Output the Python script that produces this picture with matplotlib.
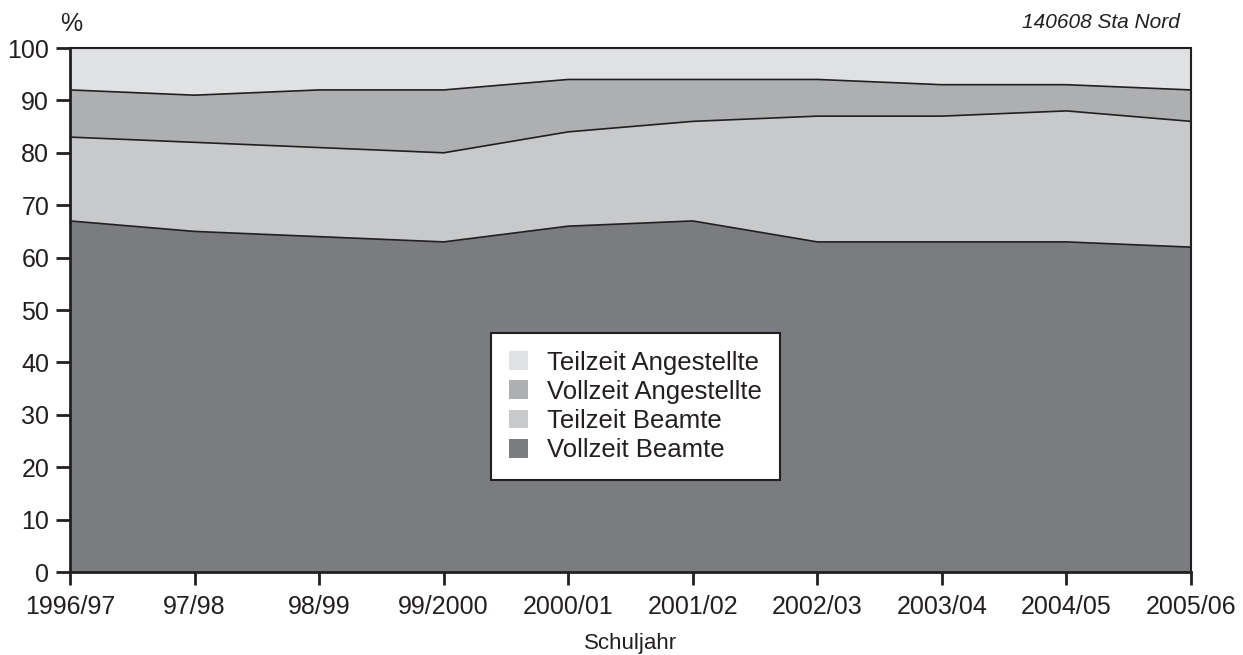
import numpy as np
import matplotlib.pyplot as plt

plt.rcParams['font.family'] = ['Liberation Sans', 'DejaVu Sans']

# ----- DATA -----
schuljahre = ["1996/97", "97/98", "98/99", "99/2000", "2000/01",
              "2001/02", "2002/03", "2003/04", "2004/05", "2005/06"]
vollzeit_beamte = [67, 65, 64, 63, 66, 67, 63, 63, 63, 62]
teilzeit_beamte = [16, 17, 17, 17, 18, 19, 24, 24, 25, 24]
vollzeit_angestellte = [9, 9, 11, 12, 10, 8, 7, 6, 5, 6]
teilzeit_angestellte = [8, 9, 8, 8, 6, 6, 6, 7, 7, 8]

series = [
    ("Vollzeit Beamte", vollzeit_beamte, "#7b7c80"),
    ("Teilzeit Beamte", teilzeit_beamte, "#c8c9cb"),
    ("Vollzeit Angestellte", vollzeit_angestellte, "#aeafb1"),
    ("Teilzeit Angestellte", teilzeit_angestellte, "#e0e1e3"),
]
line_col = "#231f20"

# ----- PLOT -----
fig = plt.figure(figsize=(12.43, 6.55), dpi=100)
ax = fig.add_axes([0.0563, 0.1267, 0.9019, 0.80])

x = np.arange(len(schuljahre))
ax.stackplot(x, *[s[1] for s in series],
             colors=[s[2] for s in series], linewidth=0)

# boundary lines between layers
cum = np.cumsum([s[1] for s in series], axis=0)
for row in cum[:-1]:
    ax.plot(x, row, color=line_col, lw=1.2)

ax.set_xlim(0, len(schuljahre) - 1)
ax.set_ylim(0, 100)
ax.set_yticks(range(0, 101, 10))
ax.set_xticks(x)
ax.set_xticklabels(schuljahre)

for side in ["left", "bottom"]:
    ax.spines[side].set_linewidth(2)
    ax.spines[side].set_color(line_col)
for side in ["top", "right"]:
    ax.spines[side].set_linewidth(1.5)
    ax.spines[side].set_color(line_col)
ax.tick_params(axis="y", length=10, width=2, color=line_col, labelsize=18, pad=5)
ax.tick_params(axis="x", length=9.5, width=2, color=line_col, labelsize=18, pad=7)
for lab in ax.get_xticklabels() + ax.get_yticklabels():
    lab.set_color(line_col)

ax.set_xlabel("Schuljahr", fontsize=16, color=line_col, labelpad=10)
fig.text(0.057, 0.963, "%", fontsize=18, color=line_col, ha="center", va="center")
fig.text(0.9493, 0.965, "140608 Sta Nord", fontsize=15, style="italic",
         color=line_col, ha="right", va="center")

# legend, top layer first
handles = [plt.Rectangle((0, 0), 1, 1, facecolor=s[2], edgecolor="none") for s in series[::-1]]
labels = [s[0] for s in series[::-1]]
leg = ax.legend(handles, labels, loc="center", bbox_to_anchor=(0.5045, 0.316),
                fontsize=18.5, frameon=True, fancybox=False, handlelength=0.75,
                handleheight=0.75, handletextpad=0.75, labelspacing=0.2,
                borderpad=0.7, borderaxespad=0)
leg.get_frame().set_edgecolor(line_col)
leg.get_frame().set_linewidth(1.5)
leg.get_frame().set_facecolor("white")
leg.get_frame().set_alpha(1)
for t in leg.get_texts():
    t.set_color(line_col)

plt.savefig("out.png", dpi=100)
plt.close()
